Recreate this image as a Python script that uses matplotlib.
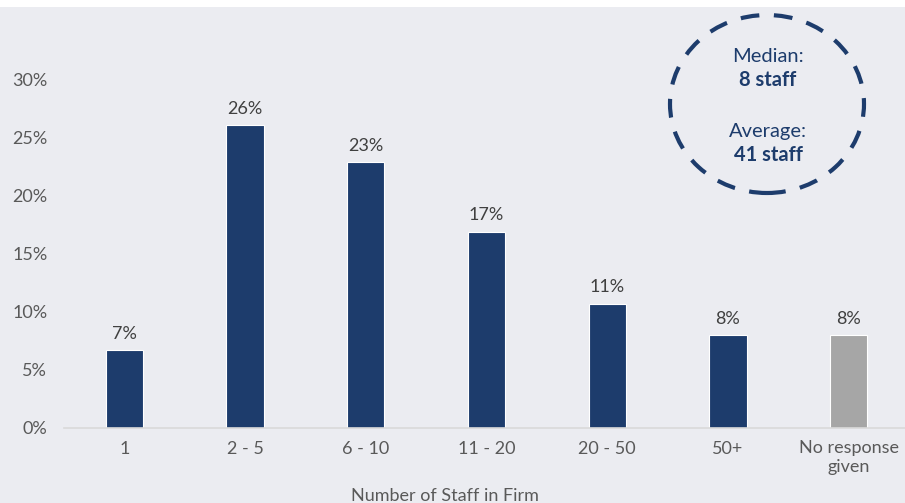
import matplotlib.pyplot as plt
from matplotlib.patches import Ellipse, Rectangle

categories = ['1', '2 - 5', '6 - 10', '11 - 20', '20 - 50', '50+', 'No response\ngiven']
values = [6.7, 26.1, 22.9, 16.9, 10.7, 8.0, 8.0]
labels = ['7%', '26%', '23%', '17%', '11%', '8%', '8%']
yticks = [0, 5, 10, 15, 20, 25, 30]

navy = '#1d3c6c'
bg = '#ebecf1'
colors = [navy] * 6 + ['#a6a6a6']

plt.rcParams['font.family'] = ['Lato', 'DejaVu Sans']

fig = plt.figure(figsize=(9.05, 5.03), dpi=100, facecolor=bg)
ax = fig.add_axes([64 / 905, 75 / 503, 845 / 905, 406 / 503])
ax.set_facecolor(bg)

x = range(len(categories))
ax.bar(x, values, width=0.31, color=colors, edgecolor='white', linewidth=0.8)
for xi, v, lab in zip(x, values, labels):
    ax.text(xi, v + 0.75, lab, ha='center', va='bottom', fontsize=13, color='#404040')

ax.set_xlim(-0.5, len(categories) - 0.5)
ax.set_ylim(0, 35)
ax.set_yticks(yticks)
ax.set_yticklabels([f'{t}%' for t in yticks])
ax.set_xticks(list(x))
ax.set_xticklabels(categories)
ax.tick_params(axis='both', length=0, labelsize=13, labelcolor='#595959')
ax.tick_params(axis='y', pad=12)
ax.tick_params(axis='x', pad=9)
for s in ['top', 'right', 'left']:
    ax.spines[s].set_visible(False)
ax.spines['bottom'].set_color('#d9d9d9')
ax.spines['bottom'].set_linewidth(1.2)

fig.text(445 / 905, 1 - 496 / 503, 'Number of Staff in Firm', ha='center', va='center',
         fontsize=13, color='#595959')

# white strip at top
fig.patches.append(Rectangle((0, 1 - 7 / 503), 1, 7 / 503, transform=fig.transFigure,
                             facecolor='white', edgecolor='none', zorder=-1))

# dashed ellipse with summary stats
fig.patches.append(Ellipse((767 / 905, 1 - 104 / 503), 194 / 905, 178 / 503,
                           transform=fig.transFigure, fill=False, edgecolor=navy,
                           linewidth=3, linestyle=(0, (4.5, 3.5))))
cx = 768 / 905
fig.text(cx, 1 - 57 / 503, 'Median:', ha='center', va='center', fontsize=14.5, color=navy)
fig.text(cx, 1 - 80 / 503, '8 staff', ha='center', va='center', fontsize=14.5,
         color=navy, fontweight='bold')
fig.text(cx, 1 - 131 / 503, 'Average:', ha='center', va='center', fontsize=14.5, color=navy)
fig.text(cx, 1 - 155 / 503, '41 staff', ha='center', va='center', fontsize=14.5,
         color=navy, fontweight='bold')

fig.savefig('out.png', dpi=100, facecolor=bg)
